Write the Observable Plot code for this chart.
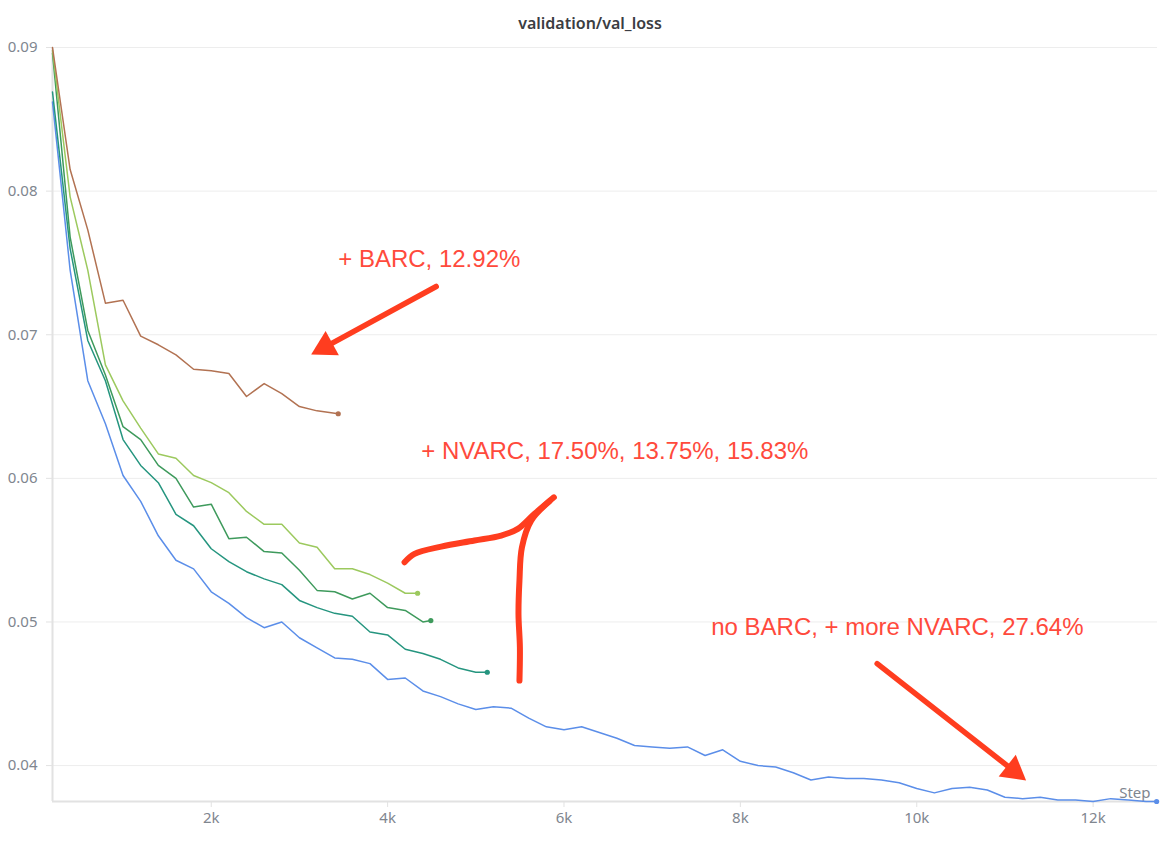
<!DOCTYPE html>
<html><head><meta charset="utf-8">
<script src="https://cdn.jsdelivr.net/npm/d3@7"></script>
<script src="https://cdn.jsdelivr.net/npm/@observablehq/plot@0.6"></script>
<style>
body{margin:0;background:#fff;font-family:"Noto Sans",sans-serif;}
#title{width:1165px;box-sizing:border-box;padding-left:15px;height:37px;padding-top:13px;text-align:center;font:600 16px/20px "Noto Sans",sans-serif;color:#3b3d42;}
</style></head><body>
<div id="title">validation/val_loss</div>
<div id="chart"></div>
<script>
// ---- data ----
const blueSteps = [200,400,600,800,1000,1200,1400,1600,1800,2000,2200,2400,2600,2800,3000,3200,3400,3600,3800,4000,4200,4400,4600,4800,5000,5200,5400,5600,5800,6000,6200,6400,6600,6800,7000,7200,7400,7600,7800,8000,8200,8400,8600,8800,9000,9200,9400,9600,9800,10000,10200,10400,10600,10800,11000,11200,11400,11600,11800,12000,12200,12400,12600,12720];
const blueVals = [0.0862,0.0745,0.0668,0.0638,0.0602,0.0584,0.0560,0.0543,0.0537,0.0521,0.0513,0.0503,0.0496,0.0500,0.0489,0.0482,0.0475,0.0474,0.0471,0.0460,0.0461,0.0452,0.0448,0.0443,0.0439,0.0441,0.0440,0.0433,0.0427,0.0425,0.0427,0.0423,0.0419,0.0414,0.0413,0.0412,0.0413,0.0407,0.0411,0.0403,0.0400,0.0399,0.0395,0.0390,0.0392,0.0391,0.0391,0.0390,0.0388,0.0384,0.0381,0.0384,0.0385,0.0383,0.0378,0.0377,0.0378,0.0376,0.0376,0.0375,0.0377,0.0376,0.0375,0.0375];

const tealSteps = [200,400,600,800,1000,1200,1400,1600,1800,2000,2200,2400,2600,2800,3000,3200,3400,3600,3800,4000,4200,4400,4600,4800,5000,5130];
const tealVals = [0.0869,0.0760,0.0696,0.0668,0.0627,0.0609,0.0597,0.0575,0.0567,0.0551,0.0542,0.0535,0.0530,0.0526,0.0515,0.0510,0.0506,0.0504,0.0493,0.0491,0.0481,0.0478,0.0474,0.0468,0.0465,0.0465];

const greenSteps = [200,400,600,800,1000,1200,1400,1600,1800,2000,2200,2400,2600,2800,3000,3200,3400,3600,3800,4000,4200,4400,4490];
const greenVals = [0.0896,0.0768,0.0703,0.0672,0.0636,0.0627,0.0609,0.0600,0.0580,0.0582,0.0558,0.0559,0.0549,0.0548,0.0536,0.0522,0.0521,0.0516,0.0520,0.0510,0.0508,0.0500,0.0501];

const limeSteps = [200,400,600,800,1000,1200,1400,1600,1800,2000,2200,2400,2600,2800,3000,3200,3400,3600,3800,4000,4200,4340];
const limeVals = [0.0898,0.0796,0.0745,0.0679,0.0654,0.0635,0.0617,0.0614,0.0602,0.0597,0.0590,0.0577,0.0568,0.0568,0.0555,0.0552,0.0537,0.0537,0.0533,0.0527,0.0520,0.0520];

const brownSteps = [200,400,600,800,1000,1200,1400,1600,1800,2000,2200,2400,2600,2800,3000,3200,3440];
const brownVals = [0.0900,0.0815,0.0773,0.0722,0.0724,0.0699,0.0693,0.0686,0.0676,0.0675,0.0673,0.0657,0.0666,0.0659,0.0650,0.0647,0.0645];

const seriesNames = ["run-noBARC-moreNVARC","run-NVARC-c","run-NVARC-b","run-NVARC-a","run-BARC"];
const seriesColors = ["#5b8ee9","#25957f","#3e9a5c","#9cc95e","#b27252"];

const yTicks = [0.04,0.05,0.06,0.07,0.08,0.09];
const xTicks = [2000,4000,6000,8000,10000,12000];
const xTickLabels = ["2k","4k","6k","8k","10k","12k"];

// annotations (data coordinates)
const noteTexts = ["+ BARC, 12.92%","+ NVARC, 17.50%, 13.75%, 15.83%","no BARC, + more NVARC, 27.64%"];
const noteX = [3440,4381,7669];
const noteY = [0.07524,0.06187,0.04961];

const arrowX1 = [4551,9551];
const arrowY1 = [0.07336,0.0471];
const arrowX2 = [3133,11240];
const arrowY2 = [0.06862,0.03896];

const braceA_X = [4192,4305,4608,4985,5288,5477,5666,5885];
const braceA_Y = [0.05416,0.05474,0.05525,0.05567,0.05602,0.05648,0.05753,0.05868];
const braceB_X = [5836,5628,5523,5495,5484,5500,5495];
const braceB_Y = [0.05841,0.05706,0.05520,0.05288,0.05056,0.04824,0.04592];

// ---- build ----
const steps = [blueSteps,tealSteps,greenSteps,limeSteps,brownSteps];
const vals = [blueVals,tealVals,greenVals,limeVals,brownVals];
const rows = [];
const lastRows = [];
seriesNames.forEach((s,k)=>{
  steps[k].forEach((st,i)=>rows.push({series:s,step:st,value:vals[k][i]}));
  const n = steps[k].length-1;
  lastRows.push({series:s,step:steps[k][n],value:vals[k][n]});
});
const notes = noteTexts.map((t,i)=>({text:t,x:noteX[i],y:noteY[i]}));
const brace = [];
braceA_X.forEach((x,i)=>brace.push({z:"a",x,y:braceA_Y[i]}));
braceB_X.forEach((x,i)=>brace.push({z:"b",x,y:braceB_Y[i]}));

const common = {
  width:1165, height:804,
  marginLeft:52, marginRight:8, marginTop:10, marginBottom:40,
  x:{domain:[200,12730]},
  y:{domain:[0.0375,0.09]},
  color:{type:"ordinal", domain:seriesNames, range:seriesColors},
  style:{fontFamily:"'Noto Sans',sans-serif", background:"#fff"}
};

const probe = Plot.plot({...common, marks:[]});
const sx = probe.scale("x"), sy = probe.scale("y");
const headLen = 24;
const shafts = [], heads = [];
arrowX1.forEach((_,i)=>{
  const x1 = sx.apply(arrowX1[i]), y1 = sy.apply(arrowY1[i]);
  const x2 = sx.apply(arrowX2[i]), y2 = sy.apply(arrowY2[i]);
  const L = Math.hypot(x2-x1,y2-y1), ux=(x2-x1)/L, uy=(y2-y1)/L;
  const h = headLen/3;
  const bx = x2-ux*headLen*0.85, by = y2-uy*headLen*0.85;
  const cx = x2-ux*2*h, cy = y2-uy*2*h;
  shafts.push({x1:arrowX1[i],y1:arrowY1[i],x2:sx.invert(bx),y2:sy.invert(by)});
  heads.push({x:sx.invert(cx),y:sy.invert(cy),rot:Math.atan2(ux,-uy)*180/Math.PI});
});
const headR = (headLen/3)*Math.sqrt(3*Math.sqrt(3)/Math.PI);

const gray = "#80868f", axisC = "#e2e2e2", red = "#ff3d1f", textRed = "#ff4a3c";

const chart = Plot.plot({
  ...common,
  marks:[
    Plot.gridY(yTicks,{stroke:"#ededed",strokeOpacity:1}),
    Plot.axisY(yTicks,{tickSize:6,tickPadding:9,tickFormat:d=>d.toFixed(2),fill:gray,stroke:axisC,fontSize:15,label:null}),
    Plot.axisX(xTicks,{tickSize:6,tickPadding:5,tickFormat:d=>xTickLabels[xTicks.indexOf(d)],fill:gray,stroke:axisC,fontSize:15,label:null}),
    Plot.ruleX([200],{stroke:axisC,strokeWidth:2}),
    Plot.ruleY([0.0375],{stroke:axisC,strokeWidth:2}),
    Plot.text(["Step"],{frameAnchor:"bottom-right",dx:-7,dy:-4,fill:gray,fontSize:15}),
    Plot.line(rows,{x:"step",y:"value",z:"series",stroke:"series",strokeWidth:1.5}),
    Plot.dot(lastRows,{x:"step",y:"value",fill:"series",r:2.6,stroke:null}),
    Plot.text(notes,{x:"x",y:"y",text:"text",textAnchor:"start",lineAnchor:"middle",fill:textRed,fontSize:24,fontFamily:"'Liberation Sans',Arial,sans-serif"}),
    Plot.link(shafts,{x1:"x1",y1:"y1",x2:"x2",y2:"y2",stroke:red,strokeWidth:5.5,strokeLinecap:"round"}),
    Plot.dot(heads,{x:"x",y:"y",symbol:"triangle",r:headR,rotate:"rot",fill:red,stroke:null}),
    Plot.line(brace,{x:"x",y:"y",z:"z",curve:"catmull-rom",stroke:red,strokeWidth:6,strokeLinecap:"round",strokeLinejoin:"round"})
  ]
});
document.getElementById("chart").appendChild(chart);
</script></body></html>
